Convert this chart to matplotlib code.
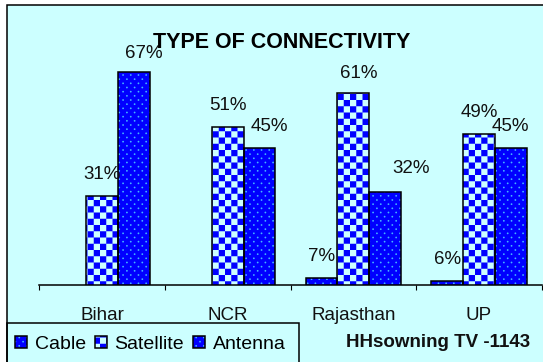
import numpy as np
import matplotlib
matplotlib.use("Agg")
import matplotlib.pyplot as plt
import matplotlib.hatch as mhatch
from matplotlib.path import Path
from matplotlib.patches import Rectangle, Patch
from matplotlib.legend_handler import HandlerTuple
from matplotlib import font_manager

# ---- data -------------------------------------------------------------
categories = ["Bihar", "NCR", "Rajasthan", "UP"]
series_names = ["Cable", "Satellite", "Antenna"]
cable = [2, 4, 7, 6]
satellite = [31, 51, 61, 49]
antenna = [67, 45, 32, 45]
title_text = "TYPE OF CONNECTIVITY"
note_text = "HHsowning TV -1143"

# ---- colours ----------------------------------------------------------
BG = "#CCFFFF"
BLUE = "#0000FF"
DOT = "#45B5FF"


# ---- fill patterns: checkerboard ('X') and staggered dots ('.') -------
class CheckerHatch(mhatch.HatchPatternBase):
    cells = 16

    def __init__(self, hatch, density):
        on = "X" in hatch
        self.num_vertices = (self.cells * self.cells // 2) * 5 if on else 0

    def set_vertices_and_codes(self, vertices, codes):
        s = 1.0 / self.cells
        sq = np.array([[0, 0], [1, 0], [1, 1], [0, 1], [0, 0]], float) * s
        sq_codes = [Path.MOVETO, Path.LINETO, Path.LINETO, Path.LINETO,
                    Path.CLOSEPOLY]
        k = 0
        for i in range(self.cells):
            for j in range(self.cells):
                if (i + j) % 2 == 0:
                    vertices[k:k + 5] = sq + [i * s, j * s]
                    codes[k:k + 5] = sq_codes
                    k += 5


class DotHatch(mhatch.HatchPatternBase):
    cols, rows, radius = 13, 24, 0.009

    def __init__(self, hatch, density):
        self.centers = []
        if "." in hatch:
            for j in range(self.rows + 1):
                if j % 2 == 0:
                    xs = np.arange(self.cols + 1) / self.cols
                else:
                    xs = (np.arange(self.cols) + 0.5) / self.cols
                for xc in xs:
                    self.centers.append((xc, j / self.rows))
        self.circle = Path.unit_circle()
        self.num_vertices = len(self.centers) * len(self.circle.vertices)

    def set_vertices_and_codes(self, vertices, codes):
        n = len(self.circle.vertices)
        for k, (cx, cy) in enumerate(self.centers):
            vertices[k * n:(k + 1) * n] = self.circle.vertices * self.radius + [cx, cy]
            codes[k * n:(k + 1) * n] = self.circle.codes


mhatch._hatch_types = [CheckerHatch, DotHatch]

plt.rcParams.update({
    "font.family": ["Liberation Sans", "DejaVu Sans"],
    "hatch.linewidth": 0.0,
})

W, H = 543, 362
fig = plt.figure(figsize=(W / 100, H / 100), dpi=100, facecolor="white")


def fx(p):
    return p / W


def fy(p):
    return 1 - p / H


# chart area panel with border on top/left
fig.add_artist(Rectangle((fx(7), -0.1), 1.2, fy(5.5) + 0.1,
                         transform=fig.transFigure, facecolor=BG,
                         edgecolor="black", linewidth=1.1, zorder=-2))

ax = fig.add_axes([fx(39.3), fy(284.5), (541.7 - 39.3) / W, (284.5 - 28) / H])
ax.patch.set_visible(False)
ymin, ymax = 5, 80
ax.set_ylim(ymin, ymax)
ax.set_xlim(-0.5, len(categories) - 0.5)

x = np.arange(len(categories))
bw = 0.253
offsets = [-bw, 0.0, bw]
values = [cable, satellite, antenna]
faces = [BLUE, BG, BLUE]
pattern_colors = [DOT, BLUE, DOT]
hatches = [".", "X", "."]

for vals, off, fc, pc, h in zip(values, offsets, faces, pattern_colors, hatches):
    ax.bar(x + off, vals, bw, color=fc, edgecolor=pc, linewidth=0,
           hatch=h, zorder=2)
    ax.bar(x + off, vals, bw, fill=False, edgecolor="black",
           linewidth=1.1, zorder=3)

# value labels (some pushed aside to stay clear of neighbours)
label_shift = {
    ("Antenna", "Bihar"): (10, 14),
    ("Antenna", "NCR"): (10, 17),
    ("Satellite", "Rajasthan"): (5, 15),
    ("Antenna", "Rajasthan"): (26, 19),
}
for name, vals, off in zip(series_names, values, offsets):
    for xi, cat, v in zip(x, categories, vals):
        if v < ymin:
            continue
        dx, dy = label_shift.get((name, cat), (0, 17))
        ax.annotate(f"{v}%", xy=(xi + off, v), xytext=(dx, dy),
                    textcoords="offset pixels", ha="center", va="baseline",
                    fontsize=13.5, color="#111111", annotation_clip=False)

for side in ("top", "left", "right"):
    ax.spines[side].set_visible(False)
ax.spines["bottom"].set_linewidth(1.1)
ax.spines["bottom"].set_color("black")
ax.set_yticks([])
ax.set_xticks(np.arange(-0.5, len(categories), 1.0))
ax.tick_params(axis="x", which="major", direction="out", length=3.6,
               width=0.8, color="black", labelbottom=False)
ax.set_xticks(x, categories, minor=True)
ax.tick_params(axis="x", which="minor", length=0, pad=16,
               labelsize=13.5, labelcolor="#111111")

# title
names = {f.name for f in font_manager.fontManager.ttflist}
if "Liberation Sans Narrow" in names:
    t_family, t_size = ["Liberation Sans Narrow", "Liberation Sans"], 17.5
else:
    t_family, t_size = ["Liberation Sans", "DejaVu Sans"], 15.5
fig.text(fx(281.3), fy(48.3), title_text, ha="center", va="baseline",
         fontsize=t_size, fontweight="bold", family=t_family, color="black")

# footnote
fig.text(fx(437.8), fy(346.7), note_text, ha="center", va="baseline",
         fontsize=13.5, fontweight="bold", color="#111111")

# legend
handles = []
for fc, pc, h in zip(faces, pattern_colors, hatches):
    handles.append((Patch(facecolor=fc, edgecolor=pc, linewidth=0, hatch=h),
                    Patch(fill=False, edgecolor="black", linewidth=1.1)))
fig.add_artist(Rectangle((fx(7), -0.1), fx(299.3) - fx(7), fy(322.7) + 0.1,
                         transform=fig.transFigure, fill=False,
                         edgecolor="black", linewidth=1.1, zorder=5))
fig.legend(handles, series_names, handler_map={tuple: HandlerTuple()},
           ncol=3, loc="upper left", bbox_to_anchor=(fx(15), fy(336)),
           bbox_transform=fig.transFigure, frameon=False, fontsize=14,
           handlelength=0.6, handleheight=0.6, handletextpad=0.41,
           columnspacing=0.47, borderpad=0, borderaxespad=0)

fig.savefig("out.png", dpi=100, facecolor="white")
